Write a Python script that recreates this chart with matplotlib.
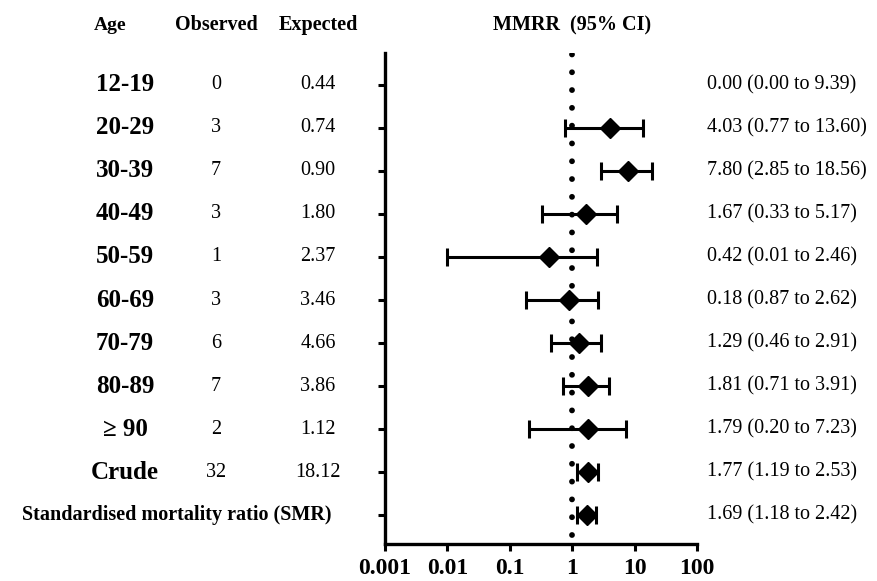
import matplotlib
matplotlib.use("Agg")
import matplotlib.pyplot as plt
import matplotlib.transforms as mtransforms
import numpy as np

plt.rcParams['font.family'] = ['Liberation Serif', 'DejaVu Serif']

# rows from top to bottom
ages = ['12-19', '20-29', '30-39', '40-49', '50-59', '60-69', '70-79',
        '80-89', '\u2265 90', 'Crude', 'Standardised mortality ratio (SMR)']
observed = ['0', '3', '7', '3', '1', '3', '6', '7', '2', '32', '']
expected = ['0.44', '0.74', '0.90', '1.80', '2.37', '3.46', '4.66', '3.86',
            '1.12', '18.12', '']
# point estimate and 95% CI (12-19 has no estimate drawn)
mmrr = [np.nan, 4.03, 7.80, 1.67, 0.42, 0.87, 1.29, 1.81, 1.79, 1.77, 1.69]
ci_low = [np.nan, 0.77, 2.85, 0.33, 0.01, 0.18, 0.46, 0.71, 0.20, 1.19, 1.18]
ci_high = [np.nan, 13.60, 18.56, 5.17, 2.46, 2.62, 2.91, 3.91, 7.23, 2.53, 2.42]
ci_text = ['0.00 (0.00 to 9.39)', '4.03 (0.77 to 13.60)', '7.80 (2.85 to 18.56)',
           '1.67 (0.33 to 5.17)', '0.42 (0.01 to 2.46)', '0.18 (0.87 to 2.62)',
           '1.29 (0.46 to 2.91)', '1.81 (0.71 to 3.91)', '1.79 (0.20 to 7.23)',
           '1.77 (1.19 to 2.53)', '1.69 (1.18 to 2.42)']
xticks = [0.001, 0.01, 0.1, 1, 10, 100]
xtick_labels = ['0.001', '0.01', '0.1', '1', '10', '100']

n = len(ages)
ypos = np.arange(n, 0, -1)

fig = plt.figure(figsize=(8.77, 5.81), dpi=100)
ax = fig.add_axes([0.439, 0.0637, 0.356, 0.845])

ax.set_xscale('log')
ax.set_xlim(0.001, 100)
ax.set_ylim(0.33, n + 0.74)

# reference line at 1
ax.plot([1, 1], [0.55, n + 0.72], color='black', lw=4.2,
        ls=(0, (0.001, 3.05)), dash_capstyle='round', zorder=1)

m = np.array(mmrr)
lo = np.array(ci_low)
hi = np.array(ci_high)
ax.errorbar(m, ypos, xerr=[m - lo, hi - m], fmt='D', color='black',
            ms=10, lw=2.2, capsize=6.5, capthick=2.2, zorder=3)

for s in ['top', 'right']:
    ax.spines[s].set_visible(False)
for s in ['left', 'bottom']:
    ax.spines[s].set_linewidth(2.4)

ax.set_yticks(ypos)
ax.set_yticklabels([])
ax.set_xticks(xticks)
ax.set_xticklabels(xtick_labels, fontsize=17, fontweight='bold')
ax.minorticks_off()
ax.tick_params(axis='y', length=5, width=2.2)
ax.tick_params(axis='x', length=5, width=2.2, pad=5)

tr = mtransforms.blended_transform_factory(fig.transFigure, ax.transData)
for i in range(n):
    y = ypos[i]
    if i == n - 1:
        ax.text(177 / 877, y, ages[i], transform=tr, ha='center', va='center',
                fontsize=14.5, fontweight='bold')
    else:
        ax.text(125 / 877, y, ages[i], transform=tr, ha='center', va='center',
                fontsize=18, fontweight='bold')
    ax.text(216 / 877, y, observed[i], transform=tr, ha='center', va='center',
            fontsize=14.5)
    ax.text(318 / 877, y, expected[i], transform=tr, ha='center', va='center',
            fontsize=14.5)
    ax.text(707 / 877, y, ci_text[i], transform=tr, ha='left', va='center',
            fontsize=14.5)

hy = 1 - 25 / 581
fig.text(110 / 877, hy, 'Age', ha='center', va='center', fontsize=14, fontweight='bold')
fig.text(216 / 877, hy, 'Observed', ha='center', va='center', fontsize=14.5, fontweight='bold')
fig.text(318 / 877, hy, 'Expected', ha='center', va='center', fontsize=14.5, fontweight='bold')
fig.text(572 / 877, hy, 'MMRR  (95% CI)', ha='center', va='center', fontsize=14.5, fontweight='bold')

fig.savefig('out.png', dpi=100)
